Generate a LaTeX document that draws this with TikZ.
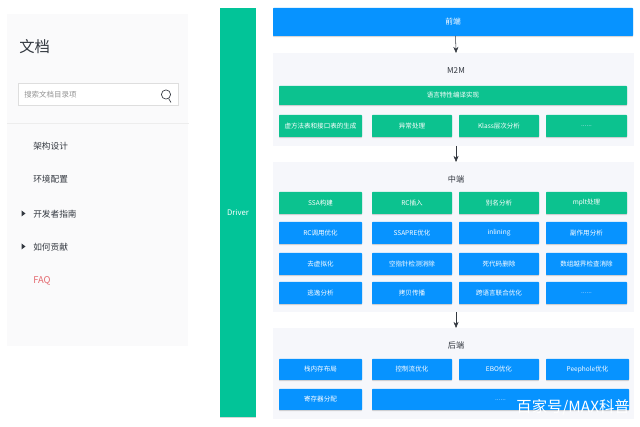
\documentclass[tikz,border=0pt]{standalone}
\usepackage{fontspec}
\setmainfont{Noto Sans CJK SC}
\usetikzlibrary{arrows.meta,shadows}
\definecolor{sidebg}{HTML}{FAFAFB}
\definecolor{panelbg}{HTML}{F6F7FB}
\definecolor{azure}{HTML}{0793FF}
\definecolor{teal}{HTML}{02C498}
\definecolor{mint}{HTML}{0CC28F}
\definecolor{ink}{HTML}{333840}
\definecolor{faqred}{HTML}{E4696F}
% \bx{name}{x0}{y0}{x1}{y1}{style}{text}: a box given by its pixel corners
\newcommand{\bx}[7]{%
  \pgfmathsetmacro{\bxw}{(#4-#2)*0.75}%
  \pgfmathsetmacro{\bxh}{(#5-#3)*0.75}%
  \node[#6,minimum width=\bxw pt,minimum height=\bxh pt] (#1)
    at ({(#2+#4)/2},{(#3+#5)/2}) {#7};}
\newcommand{\lowdots}[1]{\raisebox{#1}{\textcolor{white!80!azure}{......}}}
\tikzset{
  x=0.75pt,y=-0.75pt,
  boxbase/.style={inner sep=0pt,outer sep=0pt,text=white,rounded corners=0.5pt,
    font=\fontsize{4.9}{6}\selectfont,
    drop shadow={shadow xshift=0pt,shadow yshift=-0.8pt,opacity=0.16,fill=black}},
  bluebox/.style={boxbase,fill=azure},
  greenbox/.style={boxbase,fill=mint},
  panel/.style={inner sep=0pt,outer sep=0pt,fill=panelbg},
  heading/.style={inner sep=0pt,text=ink,font=\fontsize{6.1}{7}\selectfont},
  menuitem/.style={inner sep=0pt,anchor=west,text=ink,font=\fontsize{6.5}{8}\selectfont},
  flow/.style={draw=ink,line width=0.4pt,-{Stealth[length=4.6pt,width=3.8pt]}},
  caret/.style={fill=ink,draw=none}
}
\begin{document}
\begin{tikzpicture}
\useasboundingbox (0,0) rectangle (640,427);
\fill[white] (0,0) rectangle (640,427);

% documentation sidebar
\bx{side}{7}{14}{188}{346}{panel,fill=sidebg}{}
\node[inner sep=0pt,anchor=west,text=ink,font=\fontsize{11.5}{13}\selectfont] (title) at (19,47) {文档};
\bx{search}{18}{83}{178}{105}{draw=black!13,line width=0.6pt,fill=white,inner sep=0pt}{}
\node[inner sep=0pt,anchor=west,text=black!42,font=\fontsize{5.6}{7}\selectfont] (hint) at (24,94.5) {搜索文档目录项};
\draw[ink,line width=0.5pt] (166,94.5) circle (4.6);
\draw[ink,line width=0.5pt] (168.6,98.5) -- (171,102.5);
\draw[black!7,line width=0.8pt] (7,123.5) -- (189,123.5);
\node[menuitem] (m1) at (33,146.5) {架构设计};
\node[menuitem] (m2) at (33,179.5) {环境配置};
\node[menuitem] (m3) at (33,214) {开发者指南};
\node[menuitem] (m4) at (33,247.5) {如何贡献};
\node[menuitem,text=faqred,font=\fontsize{7}{8}\selectfont] (m5) at (33,281) {FAQ};
\fill[caret] (21.5,210.5) -- (25.5,213.5) -- (21.5,216.5) -- cycle;
\fill[caret] (21.5,243.5) -- (25.5,246.5) -- (21.5,249.5) -- cycle;

% driver column
\bx{driver}{220}{8}{256}{417}{boxbase,fill=teal,rounded corners=0pt,font=\fontsize{5.8}{7}\selectfont}{Driver}

% front end
\bx{fe}{273}{8}{633}{36}{bluebox,font=\fontsize{5.8}{7}\selectfont}{前端}

% M2M
\bx{m2m}{273}{53}{634}{146}{panel}{}
\node[heading] (m2mlabel) at (456,71) {M2M};
\bx{lang}{279}{86}{627}{105}{greenbox}{语言特性编译实现}
\bx{a1}{279}{115}{362}{137}{greenbox}{虚方法表和接口表的生成}
\bx{a2}{372}{115}{452}{137}{greenbox}{异常处理}
\bx{a3}{459}{115}{539}{137}{greenbox}{Klass层次分析}
\bx{a4}{546}{115}{627}{137}{greenbox}{\lowdots{-0.8pt}}

% middle end
\bx{me}{273}{162}{634}{312}{panel}{}
\node[heading] (melabel) at (456,179.5) {中端};
\bx{b1}{279}{192}{362}{214}{greenbox}{SSA构建}
\bx{b2}{372}{192}{452}{214}{greenbox}{RC插入}
\bx{b3}{459}{192}{539}{214}{greenbox}{别名分析}
\bx{b4}{546}{192}{627}{214}{greenbox}{mplt处理}
\bx{c1}{279}{222}{362}{244}{bluebox}{RC调用优化}
\bx{c2}{372}{222}{452}{244}{bluebox}{SSAPRE优化}
\bx{c3}{459}{222}{539}{244}{bluebox}{inlining}
\bx{c4}{546}{222}{627}{244}{bluebox}{副作用分析}
\bx{d1}{279}{253}{362}{275}{bluebox}{去虚拟化}
\bx{d2}{372}{253}{452}{275}{bluebox}{空指针检测消除}
\bx{d3}{459}{253}{539}{275}{bluebox}{死代码删除}
\bx{d4}{546}{253}{627}{275}{bluebox}{数组越界检查消除}
\bx{e1}{279}{282}{362}{304}{bluebox}{逃逸分析}
\bx{e2}{372}{282}{452}{304}{bluebox}{拷贝传播}
\bx{e3}{459}{282}{539}{304}{bluebox}{跨语言联合优化}
\bx{e4}{546}{282}{627}{304}{bluebox}{\lowdots{-0.8pt}}

% back end
\bx{be}{273}{328}{634}{419}{panel}{}
\node[heading] (belabel) at (456,345.5) {后端};
\bx{f1}{279}{359}{362}{380}{bluebox}{栈内存布局}
\bx{f2}{372}{359}{452}{380}{bluebox}{控制流优化}
\bx{f3}{459}{359}{539}{380}{bluebox}{EBO优化}
\bx{f4}{546}{359}{629}{380}{bluebox}{Peephole优化}
\bx{g1}{279}{389}{362}{410}{bluebox}{寄存器分配}
\bx{g2}{372}{389}{629}{410}{bluebox}{\lowdots{-2pt}}

% stage-to-stage flow
\draw[flow] ([xshift=1.9pt]fe.south) -- ([xshift=1.9pt]m2m.north);
\draw[flow] ([xshift=1.9pt]m2m.south) -- ([xshift=1.9pt]me.north);
\draw[flow] ([xshift=1.9pt]me.south) -- ([xshift=1.9pt]be.north);

% publisher mark
\node[inner sep=0pt,anchor=east,text=white,font=\fontsize{11.5}{13}\selectfont] (mark) at (630,407.5) {百家号/MAX科普};
\end{tikzpicture}
\end{document}
